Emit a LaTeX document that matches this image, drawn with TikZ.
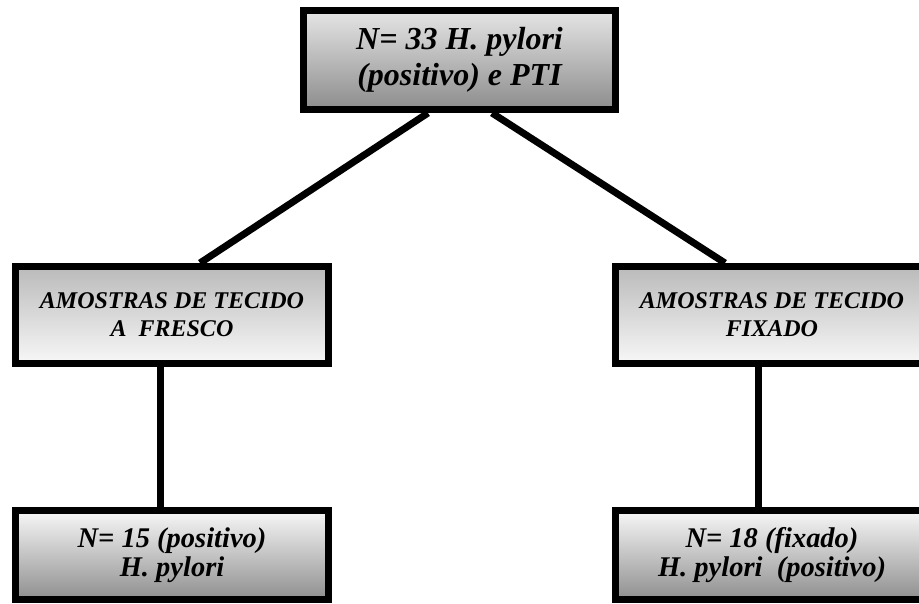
\documentclass[tikz,border=0pt]{standalone}
\usepackage{fontspec}
\setmainfont{Liberation Serif}
\usetikzlibrary{calc}

\begin{document}
\begin{tikzpicture}[x=1pt, y=-1pt,
	caixa/.style={shape=rectangle, draw=black, line width=7pt, align=center, inner sep=0pt, minimum width=313pt},
	topo/.style={caixa, top color=black!10, bottom color=black!45, minimum width=312pt, minimum height=99pt, font=\bfseries\itshape\fontsize{32}{36}\selectfont},
	amostra/.style={caixa, top color=black!27, bottom color=black!3, minimum height=97pt, font=\bfseries\itshape\fontsize{24}{28}\selectfont},
	resultado/.style={caixa, top color=black!3, bottom color=black!44, minimum height=89pt, font=\bfseries\itshape\fontsize{28.5}{29}\selectfont},
	liga/.style={-, line width=7pt}]
	
	\clip (0, 0) rectangle (919, 603);
	
	\node[topo] (pti) at (459.5, 60) {N= 33 H. pylori\\(positivo) e PTI};
	\node[amostra] (fresco) at (172, 315) {AMOSTRAS DE TECIDO\\A~~FRESCO};
	\node[amostra] (fixado) at (772, 315) {AMOSTRAS DE TECIDO\\FIXADO};
	\node[resultado] (nfresco) at (172, 555) {N= 15 (positivo)\\H. pylori};
	\node[resultado] (nfixado) at (772, 555) {N= 18 (fixado)\\H. pylori~~(positivo)};
	
	\path[liga] ($(pti.south)+(-31.5, 0)$) edge ($(fresco.north)+(28, 0)$);
	\path[liga] ($(pti.south)+(32.5, 0)$) edge ($(fixado.north)+(-47, 0)$);
	\path[liga] ($(fresco.south)+(-12, 0)$) edge ($(nfresco.north)+(-12, 0)$);
	\path[liga] ($(fixado.south)+(-14, 0)$) edge ($(nfixado.north)+(-14, 0)$);
	
\end{tikzpicture}
\end{document}
